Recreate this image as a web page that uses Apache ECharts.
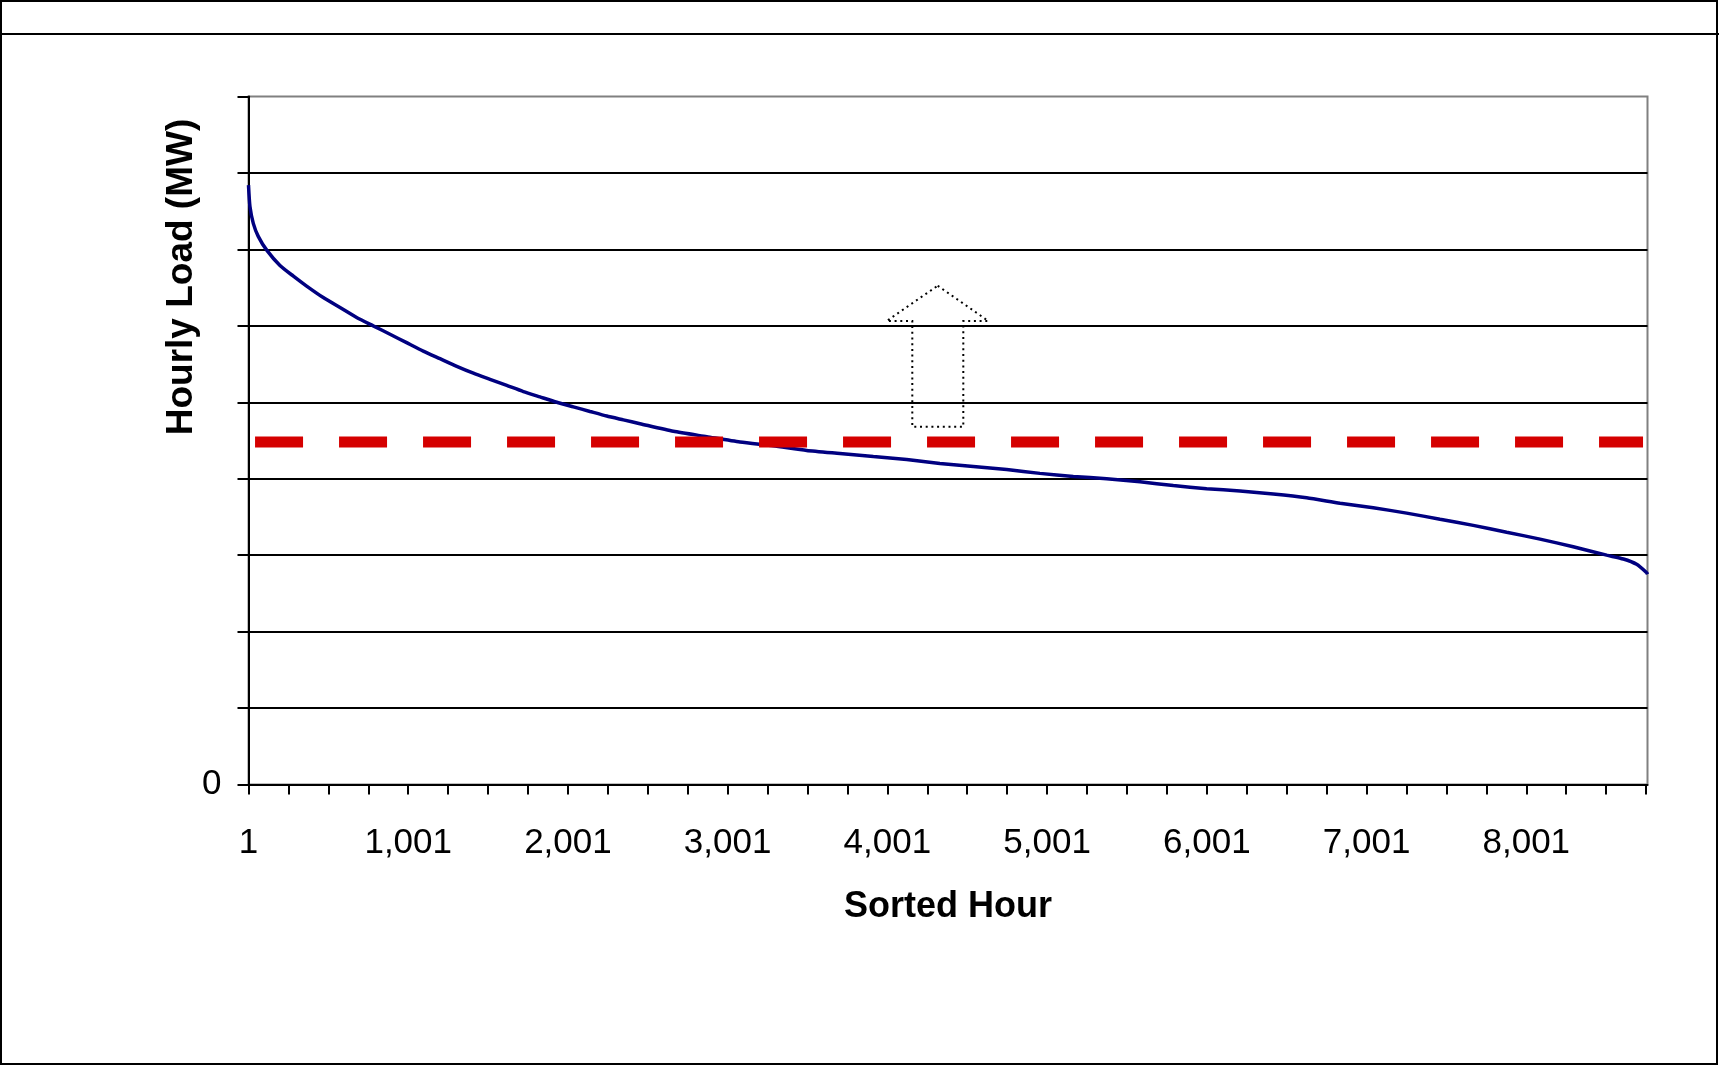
<!DOCTYPE html>
<html>
<head>
<meta charset="utf-8">
<script src="https://cdn.jsdelivr.net/npm/echarts@6/dist/echarts.min.js"></script>
<style>
html,body{margin:0;padding:0;background:#fff;}
#chart{width:1719px;height:1066px;}
</style>
</head>
<body>
<div id="chart"></div>
<script>
// ---- data ----
const sortedHours = [1, 10, 31, 62, 115, 198, 282, 365, 469, 574, 678, 782, 887, 991, 1095, 1200, 1305, 1409, 1513, 1618, 1722, 1826, 1931, 2035, 2139, 2244, 2348, 2452, 2661, 2870, 3078, 3287, 3496, 3704, 3913, 4122, 4330, 4539, 4748, 4956, 5165, 5374, 5583, 5791, 6000, 6209, 6417, 6626, 6835, 7043, 7252, 7461, 7669, 7878, 8087, 8295, 8504, 8609, 8692, 8755, 8760];
const hourlyLoad  = [784, 756, 734, 717, 699, 679, 665, 652, 637, 624, 611, 600, 589, 578, 567, 557, 547, 538, 530, 522, 514, 507, 500, 494, 488, 482, 477, 472, 462, 455, 448, 443, 437, 433, 429, 425, 420, 416, 412, 407, 403, 400, 396, 391, 387, 384, 380, 375, 368, 362, 355, 347, 339, 330, 321, 311, 300, 295, 288, 277, 275];
const refHours = [42, 8732];
const refLoad  = [448, 448];
const xTickValues  = [1, 251, 501, 751, 1001, 1251, 1501, 1751, 2001, 2251, 2501, 2751, 3001, 3251, 3501, 3751, 4001, 4251, 4501, 4751, 5001, 5251, 5501, 5751, 6001, 6251, 6501, 6751, 7001, 7251, 7501, 7751, 8001, 8251, 8501, 8751];
const xLabelValues = [1, 1001, 2001, 3001, 4001, 5001, 6001, 7001, 8001];
const yLabelValues = [0];
const xTitle = 'Sorted Hour';
const yTitle = 'Hourly Load (MW)';

const FONT = '"Liberation Sans", Arial, sans-serif';
const chart = echarts.init(document.getElementById('chart'), null, {renderer: 'canvas'});

const curve = sortedHours.map((h, i) => [h, hourlyLoad[i]]);
const ref = refHours.map((h, i) => [h, refLoad[i]]);

chart.setOption({
  animation: false,
  backgroundColor: '#ffffff',
  grid: {
    left: 248.5, right: 71.5, top: 96.5, bottom: 281.5,
    show: true, borderColor: '#808080', borderWidth: 2, backgroundColor: 'transparent'
  },
  xAxis: {
    type: 'value', min: 1, max: 8760,
    name: xTitle, nameLocation: 'middle', nameGap: 105, nameMoveOverlap: false,
    nameTextStyle: {fontFamily: FONT, fontSize: 36, fontWeight: 'bold', color: '#000'},
    axisLine: {show: true, onZero: false, lineStyle: {color: '#000', width: 2}},
    axisTick: {show: true, inside: false, length: 10, customValues: xTickValues, lineStyle: {color: '#000', width: 2}},
    axisLabel: {show: true, margin: 41, customValues: xLabelValues, fontFamily: FONT, fontSize: 35, color: '#000',
      formatter: v => Number(v).toLocaleString('en-US')},
    splitLine: {show: false}
  },
  yAxis: {
    type: 'value', min: 0, max: 900, interval: 100,
    name: yTitle, nameLocation: 'middle', nameGap: 48, nameRotate: 90, nameMoveOverlap: false,
    nameTextStyle: {fontFamily: FONT, fontSize: 37, fontWeight: 'bold', color: '#000', padding: [0, 0, 0, 327]},
    axisLine: {show: true, lineStyle: {color: '#000', width: 2}},
    axisTick: {show: true, inside: false, length: 11, lineStyle: {color: '#000', width: 2}},
    axisLabel: {show: true, margin: 27, customValues: yLabelValues, fontFamily: FONT, fontSize: 35, color: '#000'},
    splitLine: {show: true, showMinLine: false, showMaxLine: false, lineStyle: {color: '#000', width: 2}}
  },
  series: [
    {
      type: 'line', data: curve, showSymbol: false, symbol: 'none', z: 3, smooth: 0.2,
      lineStyle: {color: '#000080', width: 3.5}
    },
    {
      type: 'line', data: ref, showSymbol: false, symbol: 'none', z: 4,
      lineStyle: {color: '#d50000', width: 11, type: [48, 36], cap: 'butt'}
    }
  ],
  graphic: [
    {type: 'rect', silent: true, z: 10, shape: {x: 1, y: 1, width: 1716, height: 1063},
      style: {fill: 'none', stroke: '#000', lineWidth: 2}},
    {type: 'line', silent: true, z: 10, shape: {x1: 0, y1: 34, x2: 1719, y2: 34},
      style: {stroke: '#000', lineWidth: 2}},
    {type: 'polygon', silent: true, z: 10,
      shape: {points: [[937.7,285.7],[988.3,321],[963.3,321],[963.3,426.7],[912.3,426.7],[912.3,321],[886.7,321]]},
      style: {fill: 'none', stroke: '#000', lineWidth: 2, lineDash: [2, 3.7]}}
  ]
});
</script>
</body>
</html>
